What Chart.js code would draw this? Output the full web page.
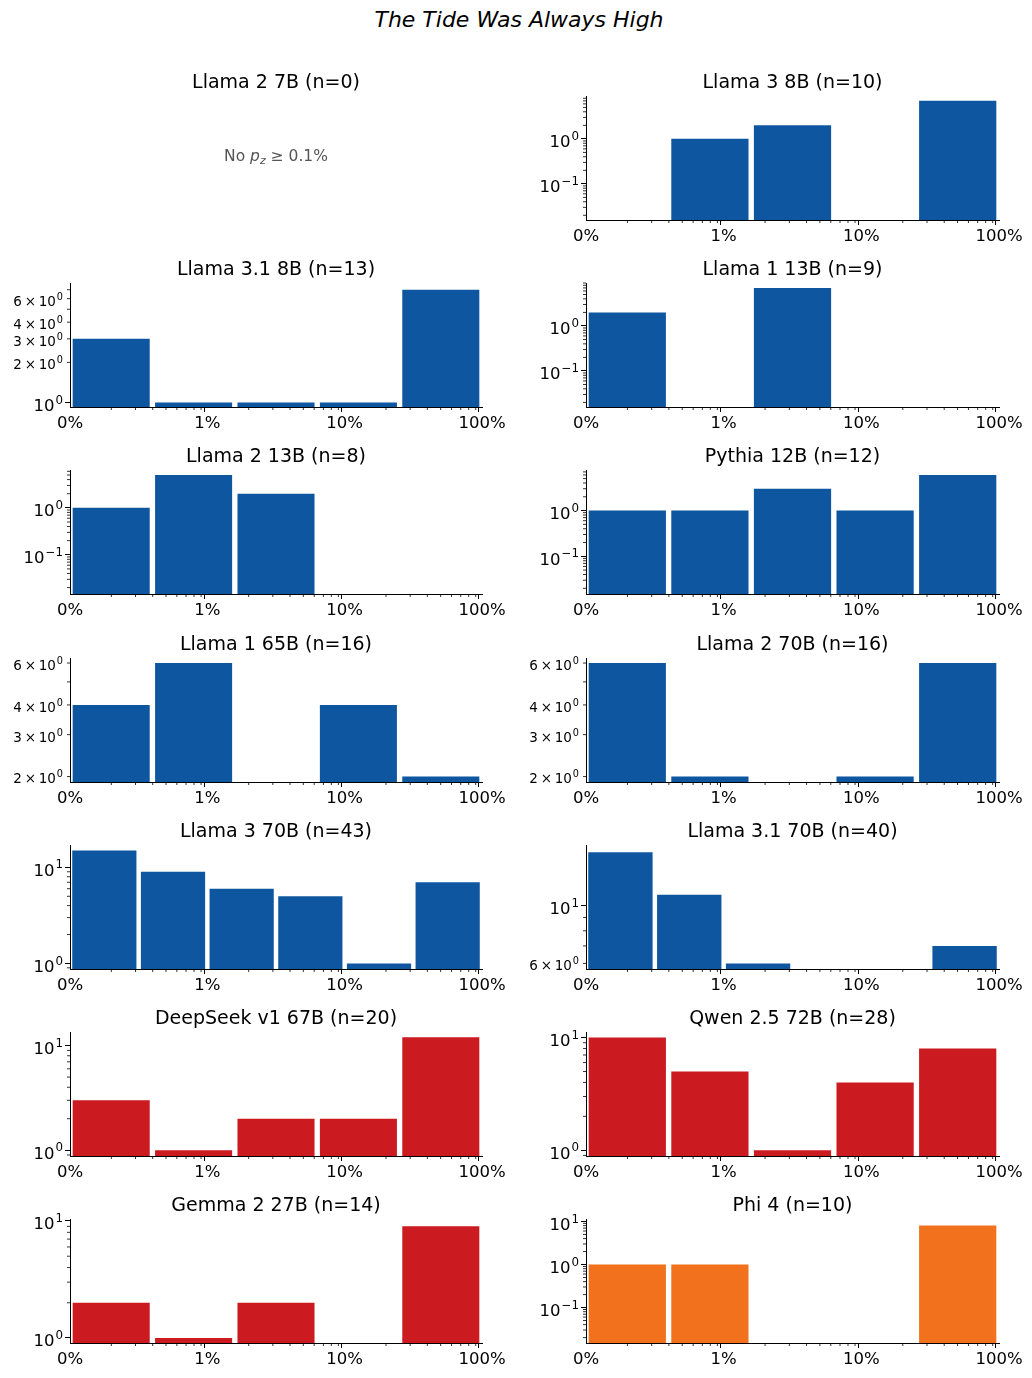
<!DOCTYPE html>
<html>
<head>
<meta charset="utf-8">
<script src="https://cdn.jsdelivr.net/npm/chart.js@4.4.1/dist/chart.umd.min.js"></script>
<style>
  body { margin: 0; background: #fff; }
  #fig { position: relative; width: 1032px; height: 1378px; font-family: "DejaVu Sans", sans-serif; }
  #suptitle { position: absolute; left: 0; top: 7px; width: 1038px; text-align: center;
              font-style: italic; font-size: 22px; line-height: 26px; color: #000; }
  #fig canvas { position: absolute; }
  .note { position: absolute; transform: translate(-50%, -50%); font-size: 15.5px; color: #555; white-space: nowrap; }
  .note sub { font-size: 11px; font-style: italic; vertical-align: -3px; }
</style>
</head>
<body>
<div id="fig">
  <div id="suptitle">The Tide Was Always High</div>
</div>
<script>
// one histogram per model, counts per log-spaced bin of p_z (0.1% .. 100%)
const panelNames = [
  'Llama 2 7B', 'Llama 3 8B',
  'Llama 3.1 8B', 'Llama 1 13B',
  'Llama 2 13B', 'Pythia 12B',
  'Llama 1 65B', 'Llama 2 70B',
  'Llama 3 70B', 'Llama 3.1 70B',
  'DeepSeek v1 67B', 'Qwen 2.5 72B',
  'Gemma 2 27B', 'Phi 4'
];
const panelFamily = [
  'llama', 'llama', 'llama', 'llama', 'llama', 'pythia', 'llama',
  'llama', 'llama', 'llama', 'other', 'other', 'other', 'phi'
];
const binCounts = [
  [],
  [0, 1, 2, 0, 7],
  [3, 1, 1, 1, 7],
  [2, 0, 7, 0, 0],
  [1, 5, 2, 0, 0],
  [1, 1, 3, 1, 6],
  [4, 6, 0, 4, 2],
  [6, 2, 0, 2, 6],
  [15, 9, 6, 5, 1, 7],
  [16, 11, 6, 0, 0, 7],
  [3, 1, 2, 2, 12],
  [10, 5, 1, 4, 8],
  [2, 1, 2, 0, 9],
  [1, 1, 0, 0, 8]
];
const binLabels5 = ['0.1-0.4%', '0.4-1.6%', '1.6-6.3%', '6.3-25%', '25-100%'];
const binLabels6 = ['0.1-0.3%', '0.3-1%', '1-3.2%', '3.2-10%', '10-32%', '32-100%'];
// y axis limits
const yLimits = [
  null,
  [0.0157, 8.98],
  [0.927, 7.86],
  [0.0158, 9.0],
  [0.0146, 6.4],
  [0.0150, 7.7],
  [1.897, 6.3],
  [1.897, 6.3],
  [0.875, 17.1],
  [5.71, 17.06],
  [0.88, 13.5],
  [0.89, 11.2],
  [0.906, 10.4],
  [0.015, 11.4]
];
// which y ticks carry a label
const yTickLabels = [
  [], [0.1, 1], [1, 2, 3, 4, 6], [0.1, 1], [0.1, 1], [0.1, 1], [2, 3, 4, 6], [2, 3, 4, 6],
  [1, 10], [6, 10], [1, 10], [1, 10], [1, 10], [0.1, 1, 10]
];
const xTickValues = [0.001, 0.01, 0.1, 1];
const xTickLabels = ['0%', '1%', '10%', '100%'];

const COLORS = { llama: '#0e57a0', pythia: '#0e57a0', other: '#cb1a20', phi: '#f1711d' };
const FONT = 'DejaVu Sans';

const colLeft = [0, 516];
const colWidth = [514, 516];
const padRight = [32, 33];
const axesTop0 = 96.7;
const rowPitch = 187.1;

function near(a, b) {
  return Math.abs(a - b) < 1e-6 * Math.max(a, b);
}
function logTicks(min, max) {
  const out = [];
  for (let k = Math.floor(Math.log10(min)); k <= Math.ceil(Math.log10(max)); k++) {
    for (let m = 1; m <= 9; m++) {
      const v = m * Math.pow(10, k);
      if (v >= min && v <= max) out.push({ value: v, major: m === 1 });
    }
  }
  return out;
}

// short minor tick marks on both axes
const minorTicks = {
  id: 'minorTicks',
  afterDraw(chart) {
    const ctx = chart.ctx;
    ['x', 'y'].forEach(id => {
      const s = chart.scales[id];
      if (!s || !s.options.display) return;
      ctx.save();
      ctx.strokeStyle = '#000';
      ctx.lineWidth = 0.8;
      s.ticks.forEach(t => {
        if (t.major) return;
        const p = s.getPixelForValue(t.value);
        ctx.beginPath();
        if (id === 'x') { ctx.moveTo(p, s.top); ctx.lineTo(p, s.top + 3); }
        else { ctx.moveTo(s.right - 3, p); ctx.lineTo(s.right, p); }
        ctx.stroke();
      });
      ctx.restore();
    });
  }
};

// y labels like 10^0 and 6x10^0 with a raised exponent
const yLabels = {
  id: 'yLabels',
  afterDraw(chart, args, opts) {
    const s = chart.scales.y;
    if (!s || !s.options.display) return;
    const ctx = chart.ctx;
    ctx.save();
    ctx.fillStyle = '#000';
    ctx.textAlign = 'left';
    ctx.textBaseline = 'alphabetic';
    s.ticks.forEach(t => {
      if (!opts.values.some(v => near(v, t.value))) return;
      const k = Math.floor(Math.log10(t.value) + 1e-9);
      const m = Math.round(t.value / Math.pow(10, k));
      const size = m === 1 ? 16.5 : 13.5;
      const esize = size * 0.72;
      const base = m === 1 ? '10' : m + '\u2009\u00d7\u200910';
      const exp = String(k).replace('-', '\u2212');
      ctx.font = size + 'px "' + FONT + '"';
      const wb = ctx.measureText(base).width;
      ctx.font = esize + 'px "' + FONT + '"';
      const we = ctx.measureText(exp).width;
      const py = s.getPixelForValue(t.value);
      const x0 = s.right - 7 - we - wb - 1;
      const yb = py + 0.515 * size;
      ctx.font = size + 'px "' + FONT + '"';
      ctx.fillText(base, x0, yb);
      ctx.font = esize + 'px "' + FONT + '"';
      ctx.fillText(exp, x0 + wb + 1, yb - 0.45 * size);
    });
    ctx.restore();
  }
};

const fig = document.getElementById('fig');

panelNames.forEach((name, i) => {
  const row = Math.floor(i / 2), col = i % 2;
  const counts = binCounts[i];
  const n = counts.reduce((a, b) => a + b, 0);
  const axesTop = Math.floor(axesTop0 + row * rowPitch);
  const canvas = document.createElement('canvas');
  canvas.width = colWidth[col];
  canvas.height = 185;
  canvas.style.left = colLeft[col] + 'px';
  canvas.style.top = (axesTop - 31) + 'px';
  canvas.style.width = colWidth[col] + 'px';
  canvas.style.height = '185px';
  fig.appendChild(canvas);

  const title = {
    display: true, fullSize: false, text: name + ' (n=' + n + ')', color: '#000',
    font: { family: FONT, size: 19, weight: 'normal' }, padding: { top: 0, bottom: 2 }
  };

  if (!counts.length) {
    new Chart(canvas, {
      type: 'bar',
      data: { labels: [], datasets: [] },
      options: {
        responsive: false, animation: false, events: [],
        layout: { padding: { top: 6.2, right: padRight[col], bottom: 30, left: 70 } },
        plugins: { legend: { display: false }, tooltip: { enabled: false }, title },
        scales: { x: { display: false }, y: { display: false } }
      }
    });
    const note = document.createElement('div');
    note.className = 'note';
    note.innerHTML = 'No <i>p</i><sub>z</sub> \u2265 0.1%';
    note.style.left = (colLeft[col] + 70 + 206) + 'px';
    note.style.top = (axesTop + 61) + 'px';
    fig.appendChild(note);
    return;
  }

  const [ymin, ymax] = yLimits[i];
  const tickGrid = {
    drawOnChartArea: false, drawTicks: true, tickLength: 5, tickWidth: 1,
    tickColor: c => (c.tick && c.tick.major ? '#000' : 'rgba(0,0,0,0)')
  };

  new Chart(canvas, {
    type: 'bar',
    data: {
      labels: counts.length === 6 ? binLabels6 : binLabels5,
      datasets: [{
        data: counts.map(c => (c > 0 ? c : null)),
        backgroundColor: COLORS[panelFamily[i]],
        borderWidth: 0,
        categoryPercentage: 1,
        barPercentage: 0.935,
        xAxisID: 'xb',
        yAxisID: 'y'
      }]
    },
    options: {
      responsive: false, animation: false, events: [],
      layout: { padding: { top: 6.2, right: padRight[col], bottom: 0, left: 0 } },
      plugins: {
        legend: { display: false }, tooltip: { enabled: false }, title,
        yLabels: { values: yTickLabels[i] }
      },
      scales: {
        xb: { type: 'category', axis: 'x', display: false, offset: true, grid: { offset: true } },
        x: {
          type: 'logarithmic', axis: 'x', position: 'bottom', min: 0.001, max: 1, offset: false,
          afterBuildTicks: s => { s.ticks = logTicks(0.001, 1); },
          afterFit: s => { s.height = 30; },
          grid: tickGrid,
          border: { display: true, color: '#000', width: 1 },
          ticks: {
            autoSkip: false, maxRotation: 0, padding: 2, color: '#000',
            font: { family: FONT, size: 16.5 },
            callback: v => {
              const k = xTickValues.findIndex(t => near(t, v));
              return k < 0 ? '' : xTickLabels[k];
            }
          }
        },
        y: {
          type: 'logarithmic', position: 'left', min: ymin, max: ymax,
          afterBuildTicks: s => { s.ticks = logTicks(ymin, ymax); },
          afterFit: s => { s.width = 70; },
          grid: tickGrid,
          border: { display: true, color: '#000', width: 1 },
          ticks: { autoSkip: false, callback: () => '' }
        }
      }
    },
    plugins: [minorTicks, yLabels]
  });
});
</script>
</body>
</html>
